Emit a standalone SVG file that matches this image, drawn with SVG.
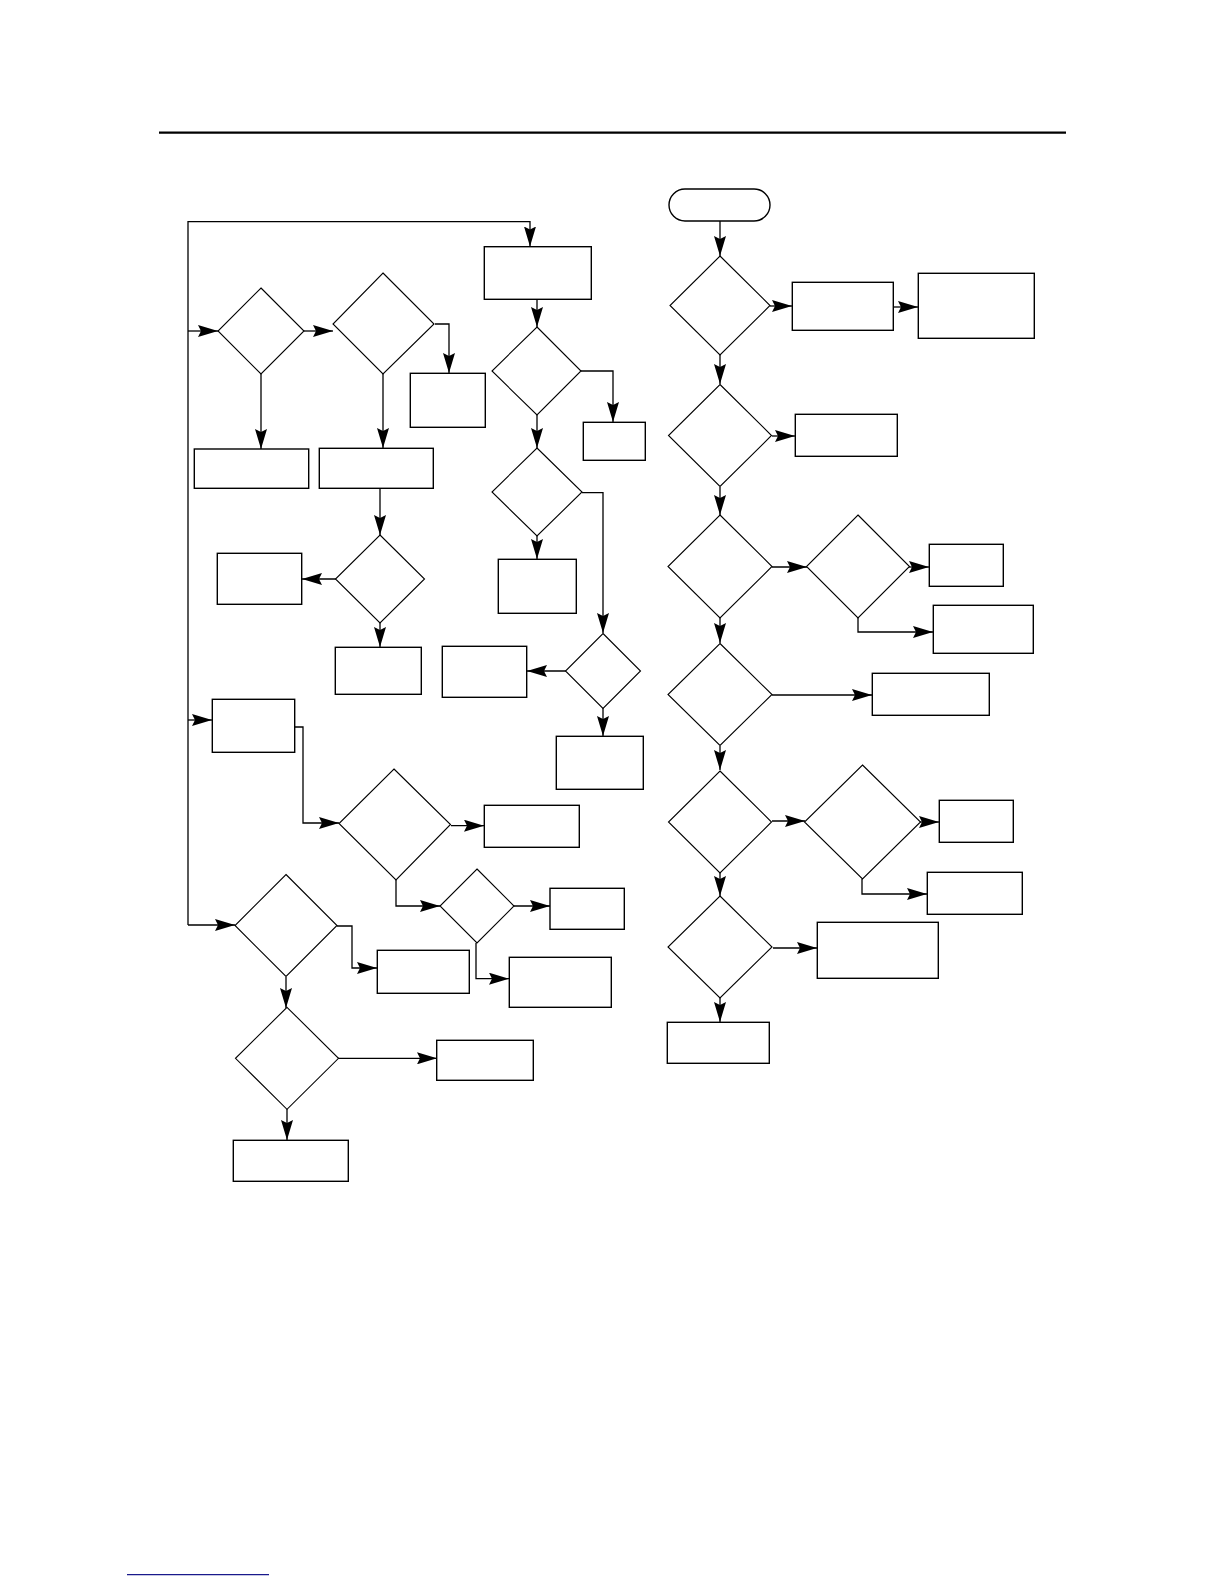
<svg xmlns="http://www.w3.org/2000/svg" width="1224" height="1584" viewBox="0 0 1224 1584">
<style>
.n{fill:#fff;stroke:#000;stroke-width:1.4}
.d{fill:#fff;stroke:#000;stroke-width:1.1}
.c{fill:none;stroke:#000;stroke-width:1.3;marker-end:url(#ah)}
.p{fill:none;stroke:#000;stroke-width:1.3}
</style>
<defs>
<marker id="ah" viewBox="0 0 20 12" refX="20" refY="6" markerWidth="20" markerHeight="12" markerUnits="userSpaceOnUse" orient="auto">
<path d="M0,0 L20,6 L0,12 L3,6 Z" fill="#000"/>
</marker>
</defs>
<rect width="1224" height="1584" fill="#fff"/>
<line x1="159" y1="132.7" x2="1066" y2="132.7" stroke="#000" stroke-width="2.3"/>
<line x1="127" y1="1574.7" x2="269" y2="1574.7" stroke="#1a1a8c" stroke-width="1.3"/>

<g id="connectors">
<path class="c" d="M188,925 V221.7 H530 V246.5"/>
<path class="c" d="M188,331 H218"/>
<path class="c" d="M304,331 H333"/>
<path class="c" d="M435,324 H449 V373"/>
<path class="c" d="M261,374 V449"/>
<path class="c" d="M383,374 V448"/>
<path class="c" d="M537,299 V327"/>
<path class="c" d="M581,371 H613 V422"/>
<path class="c" d="M537,415 V448"/>
<path class="c" d="M380,488 V535"/>
<path class="c" d="M336,579 H302"/>
<path class="c" d="M380,623 V647"/>
<path class="c" d="M188,720 H212"/>
<path class="c" d="M295,727 H303 V823 H339"/>
<path class="c" d="M582,492.7 H603 V633"/>
<path class="c" d="M537,536 V559"/>
<path class="c" d="M566,671 H527"/>
<path class="c" d="M603,708 V736"/>
<path class="c" d="M451,825.7 H484"/>
<path class="c" d="M396,880 V906 H440"/>
<path class="c" d="M514,906 H550"/>
<path class="c" d="M476,943 V978.7 H509"/>
<path class="c" d="M188,925 H235"/>
<path class="c" d="M337,926 H352 V968 H377"/>
<path class="c" d="M286,977 V1008"/>
<path class="c" d="M338,1058.3 H437"/>
<path class="c" d="M287,1109 V1140"/>
<path class="c" d="M720,221 V256"/>
<path class="c" d="M770,306 H792"/>
<path class="c" d="M893,307 H918"/>
<path class="c" d="M720,355 V384"/>
<path class="c" d="M772,436 H795"/>
<path class="c" d="M720,487 V515"/>
<path class="c" d="M772,567 H807"/>
<path class="c" d="M909,567 H929"/>
<path class="c" d="M858,618 V632 H933"/>
<path class="c" d="M720,618 V643"/>
<path class="c" d="M772,695 H872"/>
<path class="c" d="M720,746 V770"/>
<path class="c" d="M772,821 H805"/>
<path class="c" d="M920,822 H939"/>
<path class="c" d="M862,879 V894 H927"/>
<path class="c" d="M720,873 V896"/>
<path class="c" d="M773,948 H817"/>
<path class="c" d="M720,998 V1022"/>
</g>

<g id="start"><rect class="n" x="669" y="189" width="101" height="32" rx="16"/></g>

<g id="d1"><polygon class="d" points="261,288 304,331 261,374 218,331"/></g>
<g id="d2"><polygon class="d" points="383,273 434,324 383,374 333,324"/></g>
<g id="d3"><polygon class="d" points="537,327 581,371 537,415 492,371"/></g>
<g id="d4"><polygon class="d" points="537,448 582,492 537,536 492,492"/></g>
<g id="d5"><polygon class="d" points="720,256 770,305.5 720,355 670,305.5"/></g>
<g id="d6"><polygon class="d" points="720,384.5 771.5,435.5 720,486.5 668.5,435.5"/></g>
<g id="d7"><polygon class="d" points="380,535 424.5,579 380,623 335.5,579"/></g>
<g id="d8"><polygon class="d" points="603,633.5 640.5,671 603,708.5 565.5,671"/></g>
<g id="d9"><polygon class="d" points="394,769 450.5,824.5 396,880 339,823.5"/></g>
<g id="d10"><polygon class="d" points="720,515 772,566.5 720,618 668,566.5"/></g>
<g id="d11"><polygon class="d" points="858,515 909.5,566.5 858,618 806.5,566.5"/></g>
<g id="d12"><polygon class="d" points="720,643.5 772,694.5 720,745.5 668,694.5"/></g>
<g id="d13"><polygon class="d" points="720,771 771.5,822 720,873 668.5,822"/></g>
<g id="d14"><polygon class="d" points="477,869 514,906 477,943 440,906"/></g>
<g id="d15"><polygon class="d" points="286,874.5 337,925.5 286,976.5 235,925.5"/></g>
<g id="d16"><polygon class="d" points="287,1007.3 338.5,1058.3 287,1109.3 235.5,1058.3"/></g>
<g id="d17"><polygon class="d" points="862.5,765 920.5,822 862.5,879 804.5,822"/></g>
<g id="d18"><polygon class="d" points="720,896 772,947 720,998 668,947"/></g>

<g id="rA"><rect class="n" x="484.3" y="246.7" width="107" height="52.6"/></g>
<g id="rB"><rect class="n" x="410.3" y="373.3" width="75" height="54"/></g>
<g id="rC"><rect class="n" x="194.3" y="449" width="114.4" height="39.3"/></g>
<g id="rD"><rect class="n" x="319.3" y="448.3" width="114" height="40"/></g>
<g id="rE"><rect class="n" x="583.3" y="422.3" width="62" height="38"/></g>
<g id="rF"><rect class="n" x="792.3" y="282.3" width="101" height="48"/></g>
<g id="rG"><rect class="n" x="918.3" y="273.3" width="116" height="65"/></g>
<g id="rH"><rect class="n" x="795.3" y="414.3" width="102" height="42"/></g>
<g id="rI"><rect class="n" x="217.3" y="553.3" width="84.4" height="51"/></g>
<g id="rJ"><rect class="n" x="335.3" y="647.3" width="86" height="47"/></g>
<g id="rK"><rect class="n" x="212.3" y="699.3" width="82.4" height="53"/></g>
<g id="rL"><rect class="n" x="498.3" y="559.3" width="78" height="54"/></g>
<g id="rM"><rect class="n" x="442.3" y="646.3" width="84.4" height="51"/></g>
<g id="rN"><rect class="n" x="556.3" y="736.3" width="87" height="53"/></g>
<g id="rO"><rect class="n" x="929.3" y="544.3" width="74" height="42"/></g>
<g id="rP"><rect class="n" x="933.3" y="605.3" width="100" height="48"/></g>
<g id="rQ"><rect class="n" x="872.3" y="673.3" width="117" height="42"/></g>
<g id="rR"><rect class="n" x="484.3" y="805.3" width="95" height="42"/></g>
<g id="rS"><rect class="n" x="550" y="888.3" width="74.3" height="41"/></g>
<g id="rT"><rect class="n" x="509.3" y="957.3" width="102" height="50"/></g>
<g id="rU"><rect class="n" x="377.3" y="950.3" width="92" height="43"/></g>
<g id="rV"><rect class="n" x="436.7" y="1040.3" width="96.6" height="40"/></g>
<g id="rW"><rect class="n" x="233.3" y="1140.3" width="115" height="41"/></g>
<g id="rX"><rect class="n" x="939.3" y="800.3" width="74" height="42"/></g>
<g id="rY"><rect class="n" x="927.3" y="872.3" width="95" height="42"/></g>
<g id="rZ"><rect class="n" x="817.3" y="922.3" width="121" height="56"/></g>
<g id="rAA"><rect class="n" x="667.3" y="1022.3" width="102" height="41"/></g>
</svg>
